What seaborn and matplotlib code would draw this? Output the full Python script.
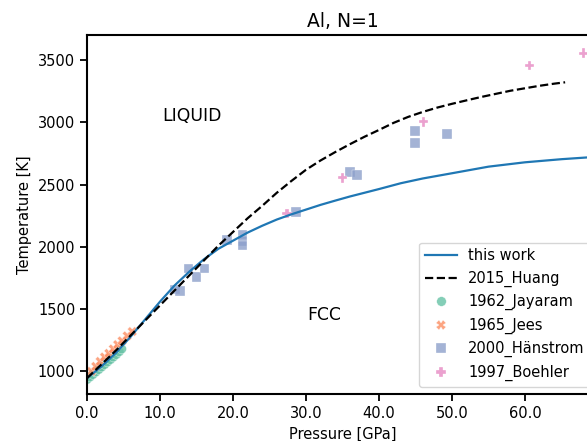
import numpy as np
import pandas as pd
import matplotlib
matplotlib.use("Agg")
import matplotlib.pyplot as plt
import seaborn as sns

# ---- data ----
work_P = [0, 2, 4, 6, 8, 10, 12, 14, 16, 18, 20, 22, 24, 26, 28, 30, 32, 34, 36, 38, 40,
          43, 46, 50, 55, 60, 65, 70]
work_T = [945, 1040, 1150, 1280, 1420, 1560, 1690, 1800, 1900, 1985, 2050, 2115, 2170, 2220,
          2262, 2300, 2338, 2372, 2405, 2435, 2465, 2512, 2550, 2592, 2645, 2680, 2705, 2725]

huang_P = [0, 4, 8, 12, 16, 18, 20, 22, 24, 26, 28, 30, 32, 34, 36, 38, 40, 42, 44, 46, 48,
           50, 52, 54, 56, 58, 60, 62, 64, 65.5]
huang_T = [945, 1170, 1410, 1650, 1890, 2010, 2120, 2230, 2330, 2435, 2530, 2620, 2695, 2762,
           2825, 2885, 2940, 2997, 3045, 3085, 3120, 3150, 3178, 3205, 3230, 3255, 3275, 3295,
           3312, 3323]

jayaram_P = [0.0, 0.4, 0.8, 1.2, 1.6, 2.0, 2.4, 2.8, 3.2, 3.6, 4.0, 4.4, 4.75]
jayaram_T = [935, 955, 975, 995, 1015, 1035, 1055, 1075, 1095, 1115, 1135, 1158, 1180]

jees_P = [0.6, 1.2, 1.8, 2.4, 3.0, 3.6, 4.2, 4.8, 5.5, 6.2]
jees_T = [1000, 1040, 1080, 1115, 1145, 1180, 1215, 1245, 1285, 1320]

hanstrom_P = [12.05, 12.7, 13.9, 15.0, 16.1, 19.2, 21.3, 21.3, 21.3, 28.6, 36.0, 37.0, 44.9, 44.9, 49.3]
hanstrom_T = [1659, 1648, 1828, 1756, 1828, 2055, 2101, 2050, 2010, 2283, 2604, 2578, 2932, 2833, 2905]

boehler_P = [27.4, 35.0, 46.1, 60.6, 68.0]
boehler_T = [2270, 2556, 3006, 3457, 3556]

series_names = ["1962_Jayaram", "1965_Jees", "2000_Hänstrom", "1997_Boehler"]
series_P = [jayaram_P, jees_P, hanstrom_P, boehler_P]
series_T = [jayaram_T, jees_T, hanstrom_T, boehler_T]

rows = []
for name, ps, ts in zip(series_names, series_P, series_T):
    for p, t in zip(ps, ts):
        rows.append({"P": p, "T": t, "source": name})
exp_df = pd.DataFrame(rows)

# ---- figure ----
plt.rcParams["font.family"] = ["DejaVu Sans"]
fig = plt.figure(figsize=(5.87, 4.41), dpi=100)
ax = fig.add_axes([0.1482, 0.1066, 0.8705, 0.814])

sns.lineplot(x=work_P, y=work_T, ax=ax, color="#1f77b4", linewidth=1.6, label="this work")
sns.lineplot(x=huang_P, y=huang_T, ax=ax, color="black", linewidth=1.6, linestyle="--",
             label="2015_Huang")

palette = dict(zip(series_names, sns.color_palette("Set2", 4)))
markers = dict(zip(series_names, ["o", "X", "s", "P"]))
sns.scatterplot(data=exp_df, x="P", y="T", hue="source", style="source",
                palette=palette, markers=markers, hue_order=series_names,
                style_order=series_names, s=48, alpha=0.8, linewidth=0.3,
                ax=ax, legend=True)

leg = ax.get_legend()
handles = list(leg.legend_handles)
labels = [t.get_text() for t in leg.get_texts()]
leg.remove()
ax.legend(handles, labels, loc="lower right", fontsize=10.5, frameon=True,
          handlelength=2.2)

ax.text(14.4, 3050, "LIQUID", fontsize=12.4, ha="center", va="center")
ax.text(32.5, 1450, "FCC", fontsize=12.4, ha="center", va="center")

ax.set_xlim(0, 70)
ax.set_ylim(818, 3703)
ax.set_xticks([0, 10, 20, 30, 40, 50, 60])
ax.set_xticklabels(["0.0", "10.0", "20.0", "30.0", "40.0", "50.0", "60.0"])
ax.set_yticks([1000, 1500, 2000, 2500, 3000, 3500])
ax.tick_params(labelsize=10.5, direction="out", length=5, width=1.3, left=True, bottom=True,
               colors="black")
for sp in ax.spines.values():
    sp.set_linewidth(1.5)
    sp.set_color("black")
ax.set_xlabel("Pressure [GPa]", fontsize=10.5)
ax.set_ylabel("Temperature [K]", fontsize=10.5)
ax.set_title("Al, N=1", fontsize=13.5)

fig.savefig("out.png", dpi=100)
